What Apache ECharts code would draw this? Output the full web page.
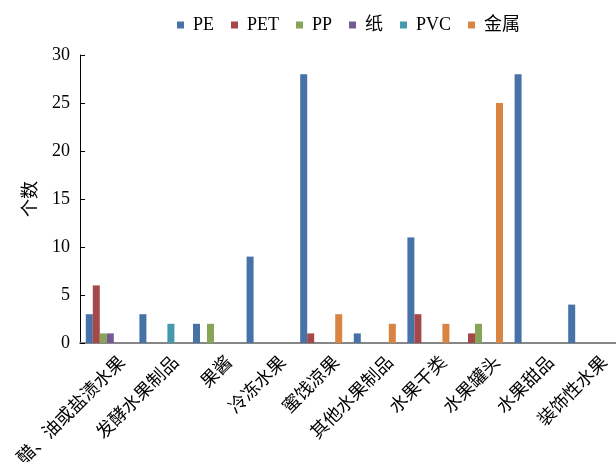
<!DOCTYPE html>
<html>
<head>
<meta charset="utf-8">
<script src="https://cdn.jsdelivr.net/npm/echarts@6/dist/echarts.min.js"></script>
<style>html,body{margin:0;padding:0;background:#fff;}#c{width:616px;height:462px;}</style>
</head>
<body>
<div id="c"></div>
<script>
const categories = ['醋、油或盐渍水果','发酵水果制品','果酱','冷冻水果','蜜饯凉果','其他水果制品','水果干类','水果罐头','水果甜品','装饰性水果'];
const seriesNames = ['PE','PET','PP','纸','PVC','金属'];
const PE   = [3,3,2,9,28,1,11,0,28,4];
const PET  = [6,0,0,0,1,0,3,1,0,0];
const PP   = [1,0,2,0,0,0,0,2,0,0];
const paper= [1,0,0,0,0,0,0,0,0,0];
const PVC  = [0,2,0,0,0,0,0,0,0,0];
const metal= [0,0,0,0,3,2,2,25,0,0];
const yTicks = {min:0, max:30, interval:5};
const values = [PE, PET, PP, paper, PVC, metal];
const colors = ['#4672A8','#A5484A','#88A557','#735A92','#4599AE','#DA8444'];
const FONT = '"Liberation Serif", "Noto Sans CJK SC", serif';

const chart = echarts.init(document.getElementById('c'));
chart.setOption({
  animation: false,
  textStyle: {fontFamily: FONT, color: '#000'},
  color: colors,
  legend: {
    data: seriesNames,
    left: 172, top: 11,
    icon: 'rect', itemWidth: 7, itemHeight: 7, itemGap: 17,
    textStyle: {fontFamily: FONT, fontSize: 18, color: '#000', padding: [0,0,0,4]}
  },
  grid: [
    {left: 80, right: 0, top: 55, bottom: 119, containLabel: false, outerBoundsMode: 'none'},
    {left: 96, right: -16, top: 55, bottom: 119, containLabel: false, outerBoundsMode: 'none'}
  ],
  xAxis: [
    {type: 'category', data: categories, gridIndex: 0,
     axisLine: {lineStyle: {color: '#868686', width: 2}},
     axisTick: {show: false}, axisLabel: {show: false}},
    {type: 'category', data: categories, gridIndex: 1,
     axisLine: {show: false}, axisTick: {show: false},
     axisLabel: {rotate: 45, margin: 17, interval: 0, fontSize: 18, fontFamily: FONT, color: '#000'}}
  ],
  yAxis: [
    {type: 'value', gridIndex: 0, min: yTicks.min, max: yTicks.max, interval: yTicks.interval,
     name: '个数', nameLocation: 'middle', nameRotate: 90, nameGap: 40,
     nameTextStyle: {fontSize: 18, fontFamily: FONT, color: '#000'},
     axisLine: {show: true, lineStyle: {color: '#000', width: 1}},
     axisTick: {show: true, inside: true, length: 5, lineStyle: {color: '#000'}},
     axisLabel: {fontSize: 18, margin: 10, fontFamily: FONT, color: '#000'},
     splitLine: {show: false}},
    {type: 'value', gridIndex: 1, show: false, min: 0, max: 30}
  ],
  series: seriesNames.map((n, i) => ({
    name: n, type: 'bar', data: values[i], xAxisIndex: 0, yAxisIndex: 0,
    barGap: '0%', barCategoryGap: '21.6%',
    itemStyle: {color: colors[i]}
  }))
});
</script>
</body>
</html>
